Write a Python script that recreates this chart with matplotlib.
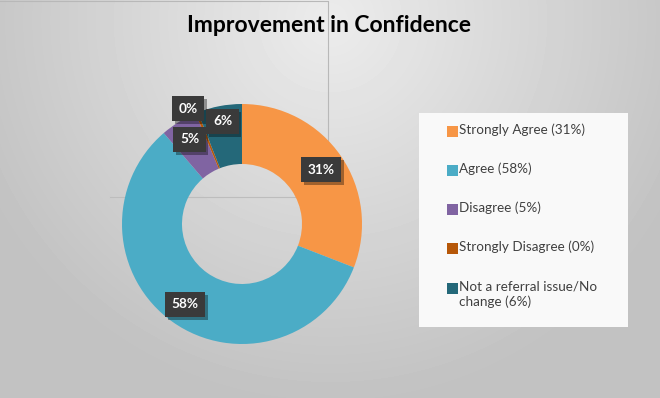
import matplotlib
matplotlib.use('Agg')
import matplotlib.pyplot as plt
import matplotlib.patheffects as pe
import numpy as np
from matplotlib.patches import Rectangle

categories = ['Strongly Agree', 'Agree', 'Disagree', 'Strongly Disagree',
              'Not a referral issue/No change']
percents = [31, 58, 5, 0, 6]
# the 0% slice still shows as a thin sliver in the original
slice_sizes = [31, 58, 5, 0.35, 6]
legend_labels = ['Strongly Agree (31%)', 'Agree (58%)', 'Disagree (5%)',
                 'Strongly Disagree (0%)', 'Not a referral issue/No\nchange (6%)']
colors = ['#F79646', '#4BACC6', '#8064A2', '#B65708', '#246879']
label_radius = [0.8, 0.82, 0.83, 1.06, 0.87]

W, H = 660, 398


def Y(p):
    # pixel row from top -> data y
    return H - p


fig = plt.figure(figsize=(6.6, 3.98), dpi=100)
ax = fig.add_axes([0, 0, 1, 1])

# grey radial background
yy, xx = np.mgrid[0:H, 0:W]
d = np.hypot(xx - 330, yy - 20)
g = np.clip(236 - 0.11 * d, 194, 240) / 255.0
ax.imshow(g, cmap='gray', vmin=0, vmax=1, extent=(0, W, 0, H),
          origin='upper', zorder=0, aspect='auto')

# faint plot area outline behind the donut
ax.plot([0, 328, 328], [Y(1), Y(1), Y(197)], color='#b8b8b8', lw=0.8, zorder=1)
ax.plot([110, 328], [Y(197), Y(197)], color='#bdbdbd', lw=0.8, zorder=1)

cx, cy, R = 242, Y(224), 120
wedges, _ = ax.pie(slice_sizes, colors=colors, startangle=90, counterclock=False,
                   radius=R, center=(cx, cy),
                   wedgeprops=dict(width=60, linewidth=0))
for w in wedges:
    w.set_zorder(2)

total = sum(slice_sizes)
cum = np.cumsum(slice_sizes)
for i, p in enumerate(percents):
    mid = 90 - 360 * (cum[i] - slice_sizes[i] / 2) / total
    if p == 0:
        mid += 3
    r = R * label_radius[i]
    x = cx + r * np.cos(np.radians(mid))
    y = cy + r * np.sin(np.radians(mid))
    t = ax.text(x, y, f'{p}%', color='white', fontweight='bold', fontsize=9.8,
                family='Lato', ha='center', va='center', zorder=5,
                bbox=dict(boxstyle='square,pad=0.48', fc='#3a3a3a', ec='none'))
    t.get_bbox_patch().set_path_effects([
        pe.SimplePatchShadow(offset=(2, -2), shadow_rgbFace='#000000', alpha=0.35),
        pe.Normal()])

ax.text(329, Y(26), 'Improvement in Confidence', fontsize=16.5, fontweight='bold',
        family='Lato', ha='center', va='center', color='black', zorder=5)

# legend box
ax.add_patch(Rectangle((419, Y(327)), 209, 214, fc='#f9f9f9', ec='none', zorder=3))
for i, (lab, col) in enumerate(zip(legend_labels, colors)):
    row = 131 + i * 39.3
    ax.add_patch(Rectangle((447, Y(row) - 5.5), 11, 11, fc=col, ec='none', zorder=4))
    ax.text(459, Y(row) + 8, lab, fontsize=9.7, family='Lato', color='#404040',
            ha='left', va='top', linespacing=1.3, zorder=4)

ax.set_xlim(0, W)
ax.set_ylim(0, H)
ax.set_aspect('equal')
ax.axis('off')

fig.savefig('out.png', dpi=100)
